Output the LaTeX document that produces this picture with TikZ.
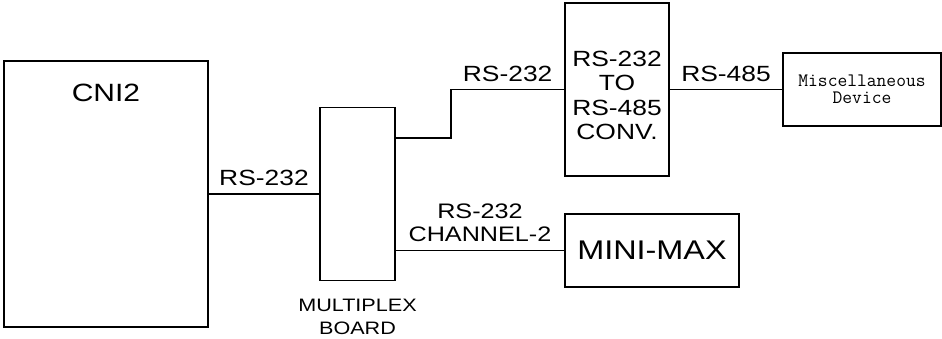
\documentclass[tikz,border=0pt]{standalone}
\usepackage{fontspec}
\setmainfont{Liberation Sans}[FakeStretch=1.2]
\begin{document}
\begin{tikzpicture}[x=1pt, y=-1pt,
        box/.style={draw, rectangle, line width=1.4pt, inner sep=0pt, align=center},
        link/.style={line width=1.4pt},
        lbl/.style={font=\fontsize{22}{24.5}\selectfont, align=center, inner sep=8pt}
    ]
        \useasboundingbox (0,0) rectangle (942,339);

        \node[box, minimum width=204, minimum height=266,
            label={[lbl, font=\fontsize{25}{28}\selectfont, inner sep=0pt, anchor=north, yshift=-24pt]north:CNI2}] (cni) at (106,194) {};
        \node[box, minimum width=75, minimum height=173,
            label={[lbl, font=\fontsize{18}{23}\selectfont, inner sep=0pt, label distance=18pt]below:MULTIPLEX\\BOARD}] (mux) at (357.5,194) {};
        \node[box, lbl, inner sep=0pt, minimum width=104, minimum height=173] (conv) at (617,89.5) {\rule{0pt}{27pt}RS-232\\TO\\RS-485\\CONV.};
        \node[box, font=\ttfamily\fontsize{19}{17}\selectfont, minimum width=158, minimum height=73] (misc) at (862,89.5) {Miscellaneous\\Device};
        \node[box, font=\fontsize{27}{30}\selectfont, minimum width=174, minimum height=73] (minimax) at (652,250.5) {MINI-MAX};

        \coordinate (bend) at (451,138);

        \draw[link] (cni) -- (mux) node[midway, above, lbl] {RS-232};
        \draw[link] (mux.east |- bend) -- (bend) |- (conv.west) node[pos=0.75, above, lbl, inner sep=7pt] {RS-232};
        \draw[link] (conv) -- (misc) node[midway, above, lbl, inner sep=7pt] {RS-485};
        \draw[link] (mux.east |- minimax.west) -- (minimax.west) node[midway, above, lbl, font=\fontsize{21}{23}\selectfont] {RS-232\\CHANNEL-2};
    \end{tikzpicture}
\end{document}
